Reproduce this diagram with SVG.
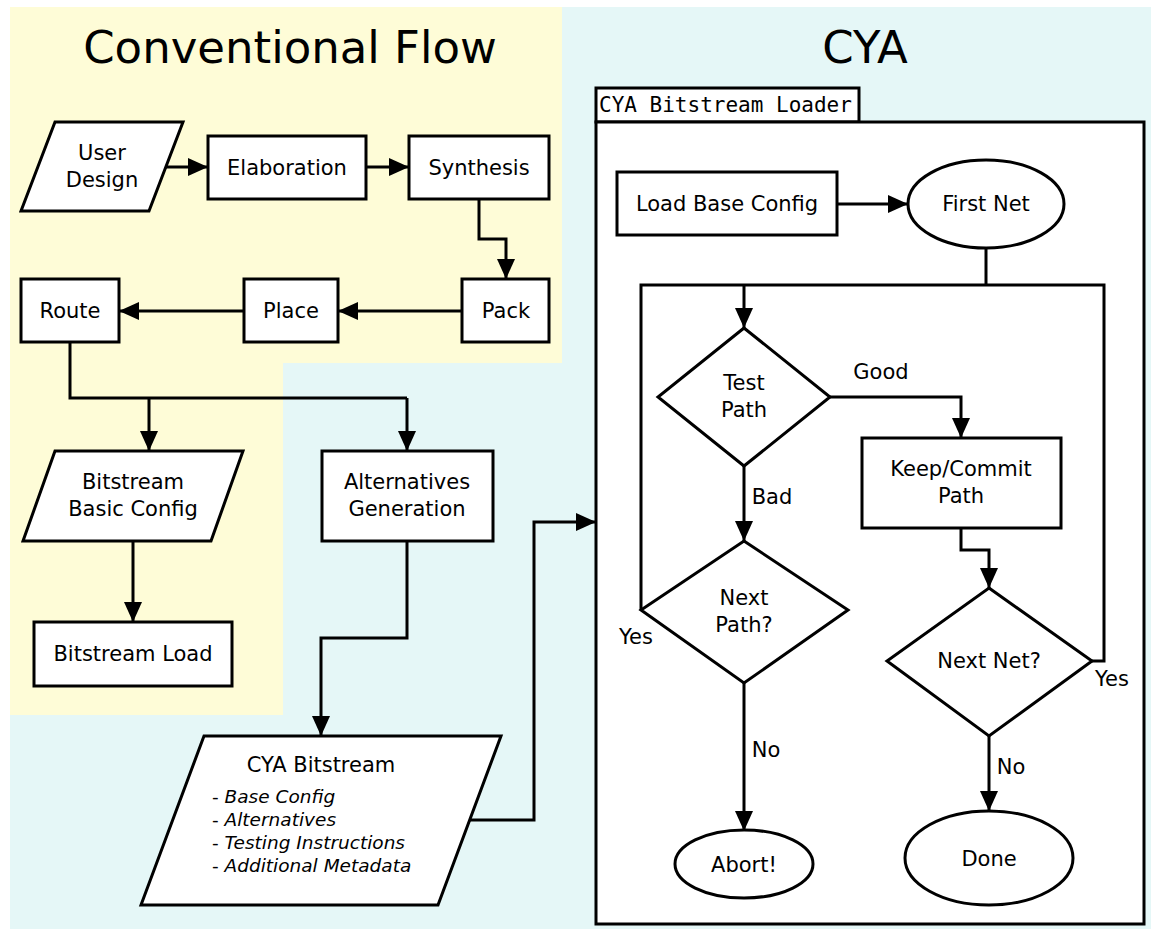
<svg xmlns="http://www.w3.org/2000/svg" width="1151" height="930" viewBox="0 0 1151 930">
<style>
.n{fill:#fff;stroke:#000;stroke-width:3}
.c{fill:none;stroke:#000;stroke-width:3}
.a{marker-end:url(#ah)}
text{font-family:"DejaVu Sans",sans-serif;font-size:21px;fill:#000;text-anchor:middle}
.t{font-size:45px}
.l{text-anchor:start;font-size:18.5px}
.i{font-style:italic}
.m{font-family:"DejaVu Sans Mono",monospace;font-size:21px;text-anchor:start}
</style>
<defs>
<marker id="ah" markerUnits="userSpaceOnUse" markerWidth="22" markerHeight="20" refX="20" refY="10" orient="auto">
<path d="M0,1 L20,10 L0,19 z" fill="#000"/>
</marker>
</defs>
<g id="background">
<rect x="10" y="7" width="1141" height="922" fill="#e5f7f7"/>
<path d="M10,7 H562 V363 H283 V715 H10 Z" fill="#fefcd7"/>
<text class="t" x="290" y="63">Conventional Flow</text>
<text class="t" x="865" y="63">CYA</text>
</g>
<g id="loader-frame">
<rect class="n" x="596" y="88" width="263" height="34"/>
<text class="m" x="599" y="112">CYA Bitstream Loader</text>
<rect class="n" x="596" y="122" width="548" height="802"/>
</g>
<g id="connectors">
<path class="c a" d="M166,167 H208"/>
<path class="c a" d="M366,167 H409"/>
<path class="c a" d="M479,199 V239 H506 V279"/>
<path class="c a" d="M462,311 H338"/>
<path class="c a" d="M244,311 H119"/>
<path class="c" d="M70,342 V398 H407"/>
<path class="c a" d="M149,398 V451"/>
<path class="c a" d="M407,398 V451"/>
<path class="c a" d="M133,541 V622"/>
<path class="c a" d="M407,541 V638 H321 V736"/>
<path class="c a" d="M470,820 H534 V522 H596"/>
<path class="c a" d="M837,204 H908"/>
<path class="c" d="M986,248 V285"/>
<path class="c" d="M641,610 V285 H1104 V661 H1092"/>
<path class="c a" d="M744,285 V328"/>
<path class="c a" d="M830,397 H961 V438"/>
<path class="c a" d="M744,466 V541"/>
<path class="c a" d="M744,683 V831"/>
<path class="c a" d="M961,528 V550 H989 V588"/>
<path class="c a" d="M989,736 V811"/>
<text x="881" y="379">Good</text>
<text x="772" y="504">Bad</text>
<text x="636" y="644">Yes</text>
<text x="766" y="757">No</text>
<text x="1112" y="686">Yes</text>
<text x="1011" y="774">No</text>
</g>
<g id="user-design">
<polygon class="n" points="21,211 55,122 183,122 149,211"/>
<text x="102" y="160">User</text>
<text x="102" y="187">Design</text>
</g>
<g id="elaboration">
<rect class="n" x="208" y="136" width="158" height="63"/>
<text x="287" y="175">Elaboration</text>
</g>
<g id="synthesis">
<rect class="n" x="409" y="136" width="140" height="63"/>
<text x="479" y="175">Synthesis</text>
</g>
<g id="pack">
<rect class="n" x="462" y="279" width="87" height="63"/>
<text x="506" y="318">Pack</text>
</g>
<g id="place">
<rect class="n" x="244" y="279" width="94" height="63"/>
<text x="291" y="318">Place</text>
</g>
<g id="route">
<rect class="n" x="21" y="279" width="98" height="63"/>
<text x="70" y="318">Route</text>
</g>
<g id="bitstream-basic-config">
<polygon class="n" points="23,541 55,451 243,451 211,541"/>
<text x="133" y="489">Bitstream</text>
<text x="133" y="516">Basic Config</text>
</g>
<g id="bitstream-load">
<rect class="n" x="34" y="622" width="198" height="64"/>
<text x="133" y="661">Bitstream Load</text>
</g>
<g id="alternatives-generation">
<rect class="n" x="322" y="451" width="171" height="90"/>
<text x="407" y="489">Alternatives</text>
<text x="407" y="516">Generation</text>
</g>
<g id="cya-bitstream">
<polygon class="n" points="141,905 204,736 501,736 438,905"/>
<text x="321" y="772">CYA Bitstream</text>
<text class="l" x="212" y="803">- <tspan class="i">Base Config</tspan></text>
<text class="l" x="212" y="826">- <tspan class="i">Alternatives</tspan></text>
<text class="l" x="212" y="849">- <tspan class="i">Testing Instructions</tspan></text>
<text class="l" x="212" y="872">- <tspan class="i">Additional Metadata</tspan></text>
</g>
<g id="load-base-config">
<rect class="n" x="617" y="172" width="220" height="63"/>
<text x="727" y="211">Load Base Config</text>
</g>
<g id="first-net">
<ellipse class="n" cx="986" cy="204" rx="78" ry="44"/>
<text x="986" y="211">First Net</text>
</g>
<g id="test-path">
<polygon class="n" points="744,328 830,397 744,466 658,397"/>
<text x="744" y="390">Test</text>
<text x="744" y="417">Path</text>
</g>
<g id="keep-commit-path">
<rect class="n" x="862" y="438" width="199" height="90"/>
<text x="961" y="476">Keep/Commit</text>
<text x="961" y="503">Path</text>
</g>
<g id="next-path">
<polygon class="n" points="744,541 848,610 744,683 641,610"/>
<text x="744" y="605">Next</text>
<text x="744" y="632">Path?</text>
</g>
<g id="next-net">
<polygon class="n" points="989,588 1092,661 989,736 887,661"/>
<text x="989" y="668">Next Net?</text>
</g>
<g id="abort">
<ellipse class="n" cx="744" cy="864" rx="69" ry="34"/>
<text x="744" y="872">Abort!</text>
</g>
<g id="done">
<ellipse class="n" cx="989" cy="858" rx="84" ry="47"/>
<text x="989" y="866">Done</text>
</g>
</svg>
